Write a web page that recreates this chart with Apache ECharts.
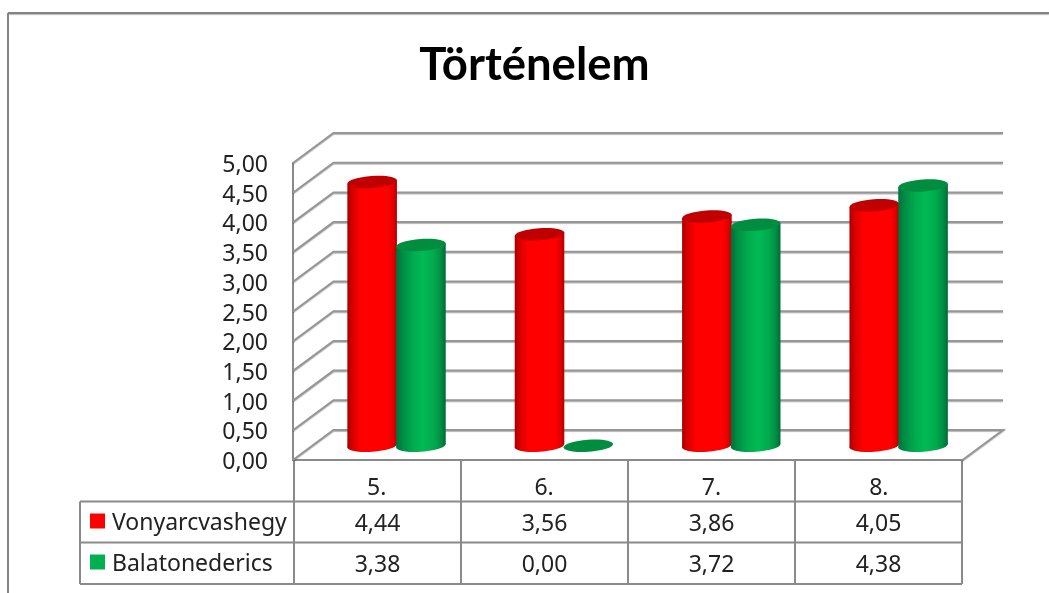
<!DOCTYPE html>
<html>
<head>
<meta charset="utf-8">
<style>html,body{margin:0;padding:0;background:#fff}#c{width:1049px;height:593px}</style>
<script src="https://cdn.jsdelivr.net/npm/echarts@6/dist/echarts.min.js"></script>
</head>
<body>
<div id="c"></div>
<script>
const titleText = 'Történelem';
const categories = ['5.', '6.', '7.', '8.'];
const yTicks = [0, 0.5, 1, 1.5, 2, 2.5, 3, 3.5, 4, 4.5, 5];
const vonyarcvashegy = [4.44, 3.56, 3.86, 4.05];
const balatonederics = [3.38, 0.00, 3.72, 4.38];

const fmt = v => v.toFixed(2).replace('.', ',');
const FONT = '"Noto Sans"';
const LINE = '#8a8a8a';
const TXT = '#222';
const FS = 23;
const GL = 293, GT = 163, GW = 669.5, GH = 297;   // front plane of the plot
const DX = 40.5, DY = -30;                         // depth of the 3D box
const R = 24.8, RY = 6, TILT = 0.07;
const SHADOW = { shadowColor: 'rgba(0,0,0,0.28)', shadowBlur: 1, shadowOffsetY: 1 };

function wallItem(params, api) {
  const cs = params.coordSys;
  const v = api.value(1);
  const y = api.coord([0, v])[1];
  const pts = [[cs.x, y], [cs.x + DX, y + DY], [cs.x + cs.width + DX, y + DY]];
  if (v === 0) pts.push([cs.x + cs.width, y]);
  return { type: 'polyline', shape: { points: pts }, style: Object.assign({ stroke: '#969696', lineWidth: 2, fill: null }, SHADOW) };
}

function cylinder(side, stops, cap) {
  return function (params, api) {
    const c = api.coord([api.value(0), 0]);
    const t = api.coord([api.value(0), api.value(1)]);
    const cx = c[0] + DX * 0.49 + side * 24.4;
    const yb = c[1] + DY * 0.475;
    const yt = t[1] + DY * 0.475;
    const sl = R * Math.sin(TILT);
    const grad = {
      type: 'linear', x: 0, y: 0, x2: 1, y2: 0,
      colorStops: stops.map(s => ({ offset: s[0], color: s[1] }))
    };
    const children = [];
    if (api.value(1) > 0) {
      children.push({
        type: 'ellipse', x: cx, y: yb, rotation: TILT,
        shape: { cx: 0, cy: 0, rx: R, ry: RY }, style: { fill: grad }
      });
      children.push({
        type: 'polygon',
        shape: { points: [[cx - R, yt + sl], [cx + R, yt - sl], [cx + R, yb - sl], [cx - R, yb + sl]] },
        style: { fill: grad }
      });
    }
    children.push({
      type: 'ellipse', x: cx, y: yt, rotation: TILT,
      shape: { cx: 0, cy: 0, rx: R, ry: RY }, style: { fill: cap }
    });
    return { type: 'group', children };
  };
}

const redStops = [[0, '#a80000'], [0.1, '#d60000'], [0.28, '#ff0000'], [0.82, '#ff0000'], [0.93, '#e00000'], [1, '#b00000']];
const greenStops = [[0, '#00703a'], [0.14, '#008f45'], [0.35, '#00ac4e'], [0.55, '#00ba55'], [0.76, '#00aa4d'], [0.9, '#008f45'], [1, '#006a36']];

// data table and frame
const colX = categories.map((_, i) => GL + 1 + 167 * i);
const tableG = [];
const ln = (x1, y1, x2, y2, c, extra) => tableG.push({ type: 'line', shape: { x1, y1, x2, y2 }, style: Object.assign({ stroke: c || LINE, lineWidth: 2 }, extra || {}), silent: true });
ln(8, 13, 1049, 13, '#848484', SHADOW);
ln(8, 13, 8, 593, '#848484');
[0, 1, 2, 3, 4].forEach(i => ln(GL + 1 + 167 * i, 460, GL + 1 + 167 * i, 584));
ln(80, 501.5, 962, 501.5);
ln(80, 542.5, 962, 542.5);
ln(80, 584, 962, 584);
ln(80, 501.5, 80, 584);
[[vonyarcvashegy, 524], [balatonederics, 565]].forEach(([arr, y]) => {
  arr.forEach((v, i) => tableG.push({
    type: 'text', x: colX[i] + 83.5, y, silent: true,
    style: { text: fmt(v), font: FS + 'px ' + FONT, fill: TXT, textAlign: 'center', textVerticalAlign: 'middle' }
  }));
});

const chart = echarts.init(document.getElementById('c'), null, { renderer: 'canvas' });
chart.setOption({
  animation: false,
  backgroundColor: '#fff',
  title: {
    text: titleText, left: 529.5, top: 60, textAlign: 'center', textVerticalAlign: 'middle',
    textStyle: { fontFamily: 'Lato', fontWeight: 'bold', fontSize: 45.5, color: '#000' }
  },
  grid: { left: GL, top: GT, width: GW, height: GH },
  legend: {
    orient: 'vertical', left: 90, top: 507, padding: 0, itemWidth: 15, itemHeight: 15, itemGap: 13, icon: 'rect',
    selectedMode: false,
    data: [
      { name: 'Vonyarcvashegy', itemStyle: { color: '#ff0000' } },
      { name: 'Balatonederics', itemStyle: { color: '#00b050' } }
    ],
    formatter: n => '{a|' + n + '}',
    textStyle: {
      fontFamily: FONT, fontSize: FS, color: TXT, lineHeight: 28,
      rich: { a: { fontFamily: FONT, fontSize: FS, color: TXT, lineHeight: 28, padding: [4, 0, 0, 2] } }
    }
  },
  xAxis: {
    type: 'category', data: categories,
    axisTick: { show: false },
    axisLine: { lineStyle: { color: LINE, width: 2 } },
    axisLabel: { fontFamily: FONT, fontSize: FS, color: TXT, margin: 17 },
    splitLine: { show: false }
  },
  yAxis: {
    type: 'value', min: 0, max: 5, interval: 0.5,
    axisTick: { show: false },
    axisLine: { show: true, lineStyle: { color: LINE, width: 2 } },
    splitLine: { show: false },
    axisLabel: {
      fontFamily: FONT, fontSize: FS, color: TXT, margin: 25,
      formatter: v => '{a|' + fmt(v) + '}',
      rich: { a: { fontFamily: FONT, fontSize: FS, color: TXT, padding: [5, 0, 0, 0] } }
    }
  },
  graphic: tableG,
  series: [
    {
      name: 'wall', type: 'custom', silent: true, clip: false, z: 1,
      renderItem: wallItem, data: yTicks.map(v => [0, v]), encode: { x: 0, y: 1 }
    },
    {
      name: 'Vonyarcvashegy', type: 'custom', clip: false, z: 3,
      itemStyle: { color: '#ff0000' },
      renderItem: cylinder(-1, redStops, '#c00000'),
      data: vonyarcvashegy.map((v, i) => [i, v]), encode: { x: 0, y: 1 }
    },
    {
      name: 'Balatonederics', type: 'custom', clip: false, z: 4,
      itemStyle: { color: '#00b050' },
      renderItem: cylinder(1, greenStops, '#008d40'),
      data: balatonederics.map((v, i) => [i, v]), encode: { x: 0, y: 1 }
    }
  ]
});
</script>
</body>
</html>
